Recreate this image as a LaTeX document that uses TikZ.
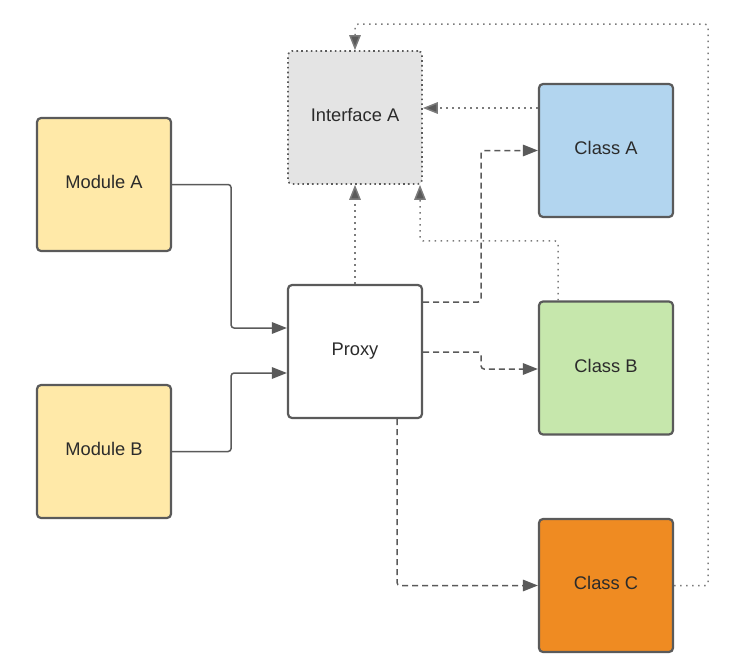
\documentclass[tikz,border=0pt]{standalone}
\usepackage{fontspec}
\setmainfont{Liberation Sans}
\usetikzlibrary{arrows.meta}
\definecolor{edgec}{HTML}{5A5A5A}
\definecolor{textc}{HTML}{2B2B2B}
\definecolor{yel}{HTML}{FFE9A8}
\definecolor{blu}{HTML}{B2D5EF}
\definecolor{grn}{HTML}{C6E7AC}
\definecolor{org}{HTML}{EF8B22}
\definecolor{gry}{HTML}{E4E4E4}
\tikzset{
  box/.style={draw=edgec, line width=2.2pt, rounded corners=4pt, minimum width=134pt, minimum height=133pt, inner sep=0pt, text=textc, text height=13.4pt, text depth=5pt, font=\fontsize{18.3}{20}\selectfont},
  dotbox/.style={box, line width=1.7pt, dash pattern=on 1.6pt off 3.2pt},
  conn/.style={draw=edgec, line width=1.5pt, rounded corners=3pt, -{Triangle[length=15pt,width=11.5pt]}},
  solidc/.style={conn},
  dashc/.style={conn, dash pattern=on 6pt off 4pt},
  dotc/.style={conn, draw=edgec!80, line width=1.5pt, dash pattern=on 1.5pt off 4.5pt, -{Triangle[length=15pt,width=11.5pt,fill=edgec]}}
}
\begin{document}
\begin{tikzpicture}[x=1pt,y=-1pt]
\useasboundingbox (0,0) rectangle (750,669);
\node[box, fill=yel] (modA) at (104,184.5) {Module A};
\node[box, fill=yel] (modB) at (104,451.5) {Module B};
\node[dotbox, fill=gry] (iface) at (355,117.5) {Interface A};
\node[box, fill=blu] (classA) at (606,150.5) {Class A};
\node[box, fill=white] (proxy) at (355,351.5) {Proxy};
\node[box, fill=grn] (classB) at (606,368) {Class B};
\node[box, fill=org] (classC) at (606,585.5) {Class C};

\draw[solidc] (modA.east) -- ++(59,0) |- ([yshift=23.5pt]proxy.west);
\draw[solidc] (modB.east) -- ++(59,0) |- ([yshift=-21.5pt]proxy.west);

\draw[dotc] (proxy.north) -- (iface.south);
\draw[dotc] ([xshift=-48pt]classB.north) -- ++(0,-59.5) -| ([xshift=65pt]iface.south);
\coordinate (ca1) at ([yshift=42.5pt]classA.west);
\draw[dotc] (ca1) -- (ca1 -| iface.east);
\draw[dotc] (classC.east) -- ++(34,0) |- ([yshift=26pt]iface.north) -- (iface.north);

\draw[dashc] ([yshift=49.5pt]proxy.east) -- ++(58,0) |- (classA.west);
\draw[dashc] ([yshift=-0.5pt]proxy.east) -- ++(58,0) |- ([yshift=-1pt]classB.west);
\coordinate (pb) at ([xshift=42pt]proxy.south);
\draw[dashc] (pb) |- (classC.west);
\end{tikzpicture}
\end{document}
